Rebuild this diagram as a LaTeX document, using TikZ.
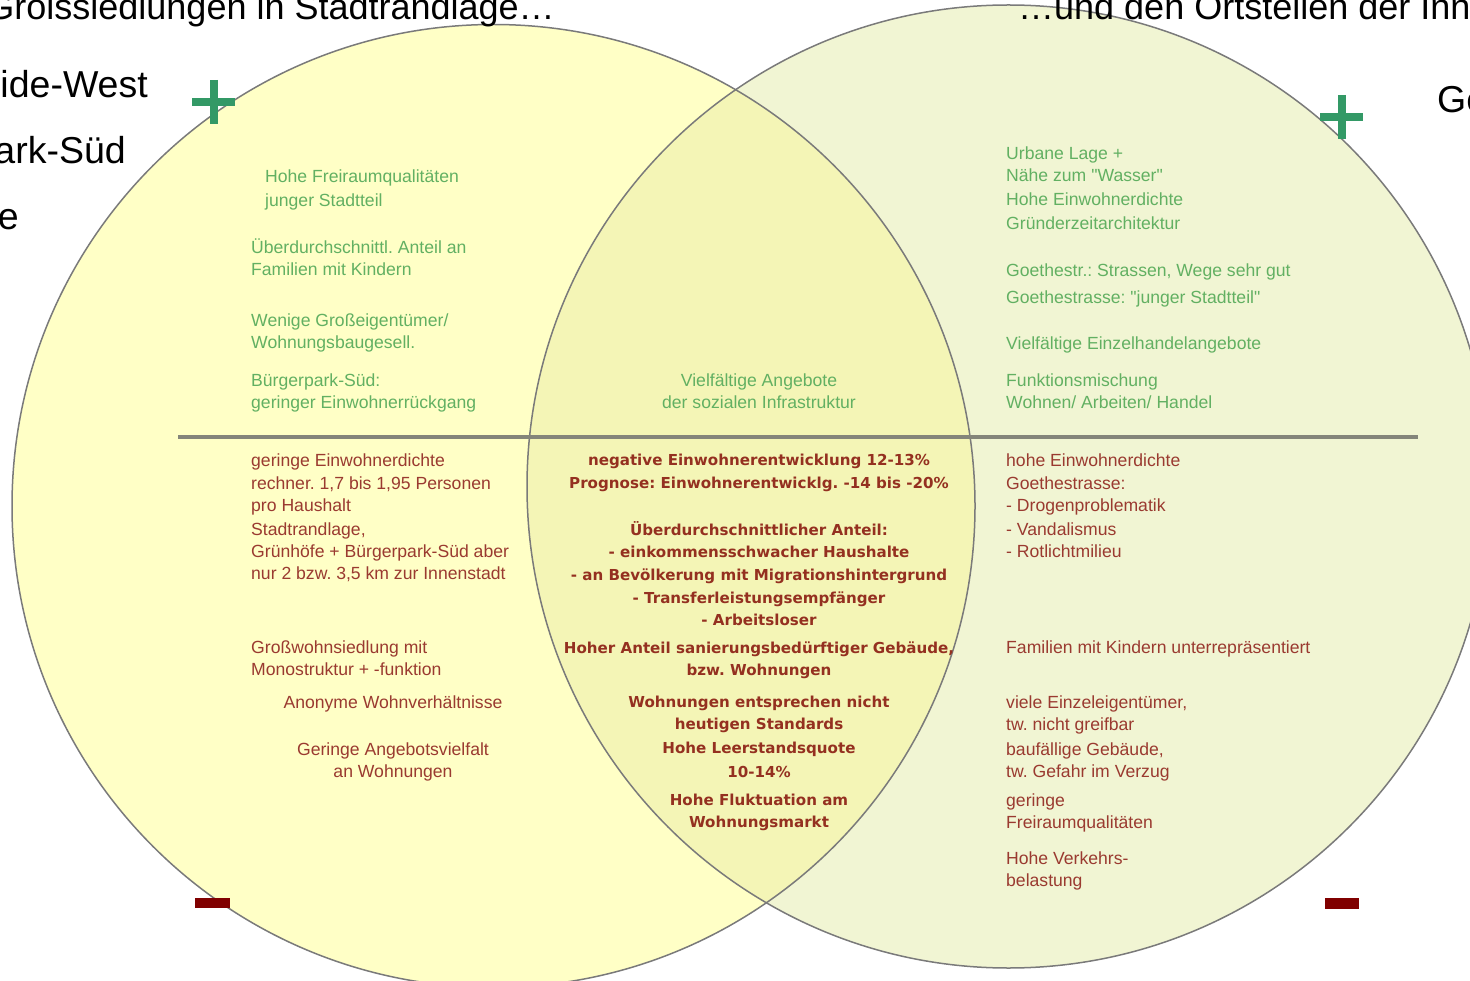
\documentclass[tikz,border=0pt]{standalone}
\usepackage{fontspec}
\setmainfont{Liberation Sans}
\newfontfamily\djv{DejaVu Sans}
\frenchspacing
\definecolor{fillL}{HTML}{FFFFC6}
\definecolor{fillR}{HTML}{F1F5D3}
\definecolor{fillM}{HTML}{F4F5B6}
\definecolor{ringcol}{HTML}{7A7A7A}
\definecolor{barcol}{HTML}{84857A}
\definecolor{txtgreen}{HTML}{62B062}
\definecolor{txtred}{HTML}{9A3A30}
\definecolor{txtbold}{HTML}{943020}
\definecolor{plusgreen}{HTML}{339966}
\definecolor{minusred}{HTML}{800000}
\tikzset{
  gtxt/.style={font=\fontsize{17.6}{20}\selectfont, text=txtgreen, inner sep=0pt, anchor=base west},
  gctr/.style={gtxt, anchor=base},
  rtxt/.style={font=\fontsize{17.6}{20}\selectfont, text=txtred, inner sep=0pt, anchor=base west},
  rctr/.style={rtxt, anchor=base},
  btxt/.style={font=\djv\bfseries\fontsize{15.1}{18}\selectfont, text=txtbold, inner sep=0pt, anchor=base},
  bigtxt/.style={font=\fontsize{36}{40}\selectfont, text=black, inner sep=0pt},
  listtxt/.style={font=\fontsize{37.5}{40}\selectfont, text=black, inner sep=0pt},
  ring/.style={draw=ringcol, line width=1.5pt},
  plusmark/.style={draw=plusgreen, line width=8pt},
}
\begin{document}
\begin{tikzpicture}[x=1pt,y=-1pt]
\useasboundingbox (0,0) rectangle (1470,981);
\clip (0,0) rectangle (1470,981);
% fills
\fill[fillL] (493.5,506) circle[radius=481.5];
\fill[fillR] (1008.5,486.5) circle[radius=481.5];
\begin{scope}
  \clip (493.5,506) circle[radius=481.5];
  \fill[fillM] (1008.5,486.5) circle[radius=481.5];
\end{scope}
% outlines
\draw[ring] (493.5,506) circle[radius=481.5];
\draw[ring] (1008.5,486.5) circle[radius=481.5];
% dividing line
\draw[barcol, line width=3.5pt] (178,437) -- (1418,437);
% plus and minus marks
\draw[plusmark] (192,102) -- (235,102) (213.5,80) -- (213.5,124);
\draw[plusmark] (1320,117) -- (1363,117) (1341.5,95) -- (1341.5,139);
\fill[minusred] (195,898) rectangle (230,908);
\fill[minusred] (1325,898) rectangle (1359,909);
% big black texts
\node[bigtxt, anchor=base east] (titleL) at (555,20) {Groissiedlungen in Stadtrandlage…};
\node[bigtxt, anchor=base west] (titleR) at (1018,20) {…und den Ortsteilen der Innenstadt};
\node[listtxt, anchor=base east] (lw1) at (148,98) {Leherheide-West};
\node[listtxt, anchor=base east] (lw2) at (126,164) {Bürgerpark-Süd};
\node[listtxt, anchor=base east] (lw3) at (19,230) {Grünhöfe};
\node[listtxt, anchor=base west] (rw1) at (1437,113) {Geestemünde};
% left upper (green)
\node[gtxt] (lu1) at (265,183) {Hohe Freiraumqualitäten};
\node[gtxt] (lu2) at (265,207) {junger Stadtteil};
\node[gtxt] (lu3) at (251,254) {Überdurchschnittl. Anteil an};
\node[gtxt] (lu4) at (251,276) {Familien mit Kindern};
\node[gtxt] (lu5) at (251,327) {Wenige Großeigentümer/};
\node[gtxt] (lu6) at (251,349) {Wohnungsbaugesell.};
\node[gtxt] (lu7) at (251,387) {Bürgerpark-Süd:};
\node[gtxt] (lu8) at (251,409) {geringer Einwohnerrückgang};
% center upper (green)
\node[gctr] (cu1) at (759,387) {Vielfältige Angebote};
\node[gctr] (cu2) at (759,409) {der sozialen Infrastruktur};
% right upper (green)
\node[gtxt] (ru1) at (1006,160) {Urbane Lage +};
\node[gtxt] (ru2) at (1006,182) {Nähe zum \textquotedbl Wasser\textquotedbl};
\node[gtxt] (ru3) at (1006,206) {Hohe Einwohnerdichte};
\node[gtxt] (ru4) at (1006,230) {Gründerzeitarchitektur};
\node[gtxt] (ru5) at (1006,277) {Goethestr.: Strassen, Wege sehr gut};
\node[gtxt] (ru6) at (1006,304) {Goethestrasse: \textquotedbl junger Stadtteil\textquotedbl};
\node[gtxt] (ru7) at (1006,350) {Vielfältige Einzelhandelangebote};
\node[gtxt] (ru8) at (1006,387) {Funktionsmischung};
\node[gtxt] (ru9) at (1006,409) {Wohnen/ Arbeiten/ Handel};
% left lower (red)
\node[rtxt] (ll1) at (251,466) {geringe Einwohnerdichte};
\node[rtxt] (ll2) at (251,489) {rechner. 1,7 bis 1,95 Personen};
\node[rtxt] (ll3) at (251,511) {pro Haushalt};
\node[rtxt] (ll4) at (251,535) {Stadtrandlage,};
\node[rtxt] (ll5) at (251,557) {Grünhöfe + Bürgerpark-Süd aber};
\node[rtxt] (ll6) at (251,579) {nur 2 bzw. 3,5 km zur Innenstadt};
\node[rtxt] (ll7) at (251,653) {Großwohnsiedlung mit};
\node[rtxt] (ll8) at (251,675) {Monostruktur + -funktion};
\node[rctr] (ll9) at (393,708) {Anonyme Wohnverhältnisse};
\node[rctr] (ll10) at (393,755) {Geringe Angebotsvielfalt};
\node[rctr] (ll11) at (393,777) {an Wohnungen};
% center lower (bold)
\node[btxt] (cl1) at (759,465.5) {negative Einwohnerentwicklung 12-13\%};
\node[btxt] (cl2) at (759,488.5) {Prognose: Einwohnerentwicklg. -14 bis -20\%};
\node[btxt] (cl3) at (759,535.5) {Überdurchschnittlicher Anteil:};
\node[btxt] (cl4) at (759,557.5) {- einkommensschwacher Haushalte};
\node[btxt] (cl5) at (759,580.5) {- an Bevölkerung mit Migrationshintergrund};
\node[btxt] (cl6) at (759,603.5) {- Transferleistungsempfänger};
\node[btxt] (cl7) at (759,625.5) {- Arbeitsloser};
\node[btxt] (cl8) at (759,653.5) {Hoher Anteil sanierungsbedürftiger Gebäude,};
\node[btxt] (cl9) at (759,675.5) {bzw. Wohnungen};
\node[btxt] (cl10) at (759,707.5) {Wohnungen entsprechen nicht};
\node[btxt] (cl11) at (759,729.5) {heutigen Standards};
\node[btxt] (cl12) at (759,753.5) {Hohe Leerstandsquote};
\node[btxt] (cl13) at (759,777.5) {10-14\%};
\node[btxt] (cl14) at (759,805.5) {Hohe Fluktuation am};
\node[btxt] (cl15) at (759,827.5) {Wohnungsmarkt};
% right lower (red)
\node[rtxt] (rl1) at (1006,466) {hohe Einwohnerdichte};
\node[rtxt] (rl2) at (1006,489) {Goethestrasse:};
\node[rtxt] (rl3) at (1006,511) {- Drogenproblematik};
\node[rtxt] (rl4) at (1006,535) {- Vandalismus};
\node[rtxt] (rl5) at (1006,557) {- Rotlichtmilieu};
\node[rtxt] (rl6) at (1006,653) {Familien mit Kindern unterrepräsentiert};
\node[rtxt] (rl7) at (1006,708) {viele Einzeleigentümer,};
\node[rtxt] (rl8) at (1006,730) {tw. nicht greifbar};
\node[rtxt] (rl9) at (1006,755) {baufällige Gebäude,};
\node[rtxt] (rl10) at (1006,777) {tw. Gefahr im Verzug};
\node[rtxt] (rl11) at (1006,806) {geringe};
\node[rtxt] (rl12) at (1006,828) {Freiraumqualitäten};
\node[rtxt] (rl13) at (1006,864) {Hohe Verkehrs-};
\node[rtxt] (rl14) at (1006,886) {belastung};
\end{tikzpicture}
\end{document}
